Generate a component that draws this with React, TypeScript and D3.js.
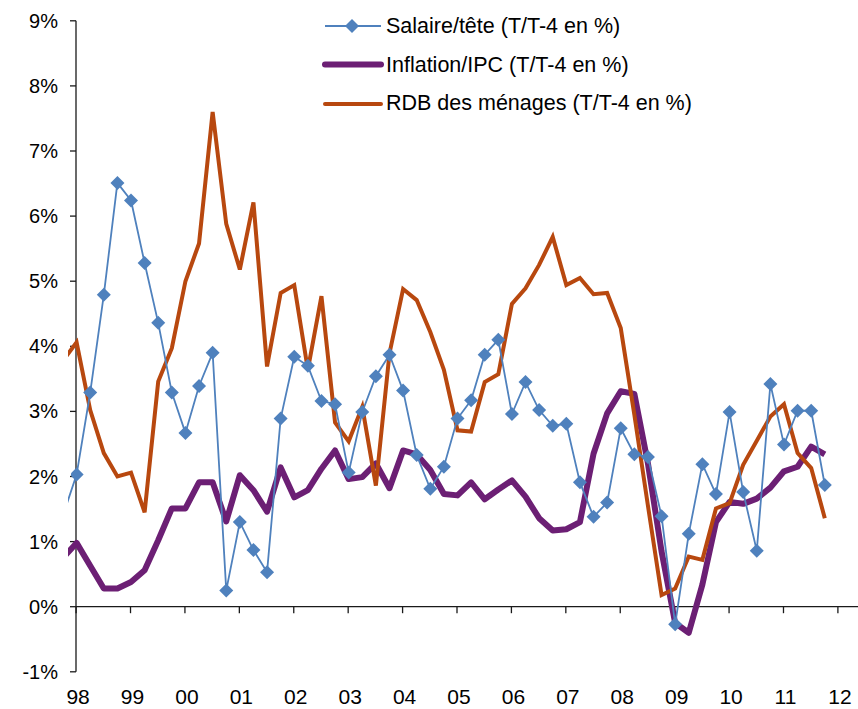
import React from 'react';
import * as d3 from 'd3';

// quarter index: 0 = tick "98" (first quarter of 1998); -1 = previous quarter (clipped)
const quarters = d3.range(-1, 56);

const salaire = [
  1.40, 2.03, 3.29, 4.79, 6.51, 6.24, 5.28, 4.36, 3.29, 2.67, 3.39, 3.90,
  0.25, 1.30, 0.87, 0.53, 2.89, 3.84, 3.70, 3.16, 3.11, 2.06, 2.99, 3.54,
  3.87, 3.32, 2.33, 1.81, 2.15, 2.89, 3.17, 3.87, 4.10, 2.96, 3.45, 3.02,
  2.78, 2.81, 1.91, 1.38, 1.60, 2.74, 2.34, 2.30, 1.39, -0.27, 1.12, 2.19,
  1.73, 2.99, 1.76, 0.86, 3.42, 2.49, 3.01, 3.01, 1.87,
];

const inflation = [
  0.75, 0.98, 0.63, 0.28, 0.28, 0.38, 0.56, 1.02, 1.51, 1.51, 1.91, 1.91,
  1.31, 2.02, 1.79, 1.46, 2.14, 1.68, 1.79, 2.12, 2.40, 1.96, 1.99, 2.20,
  1.82, 2.40, 2.34, 2.10, 1.73, 1.71, 1.91, 1.65, 1.80, 1.94, 1.69, 1.36,
  1.17, 1.19, 1.30, 2.35, 2.97, 3.31, 3.27, 2.20, 0.85, -0.25, -0.40, 0.34,
  1.30, 1.61, 1.58, 1.66, 1.83, 2.08, 2.15, 2.46, 2.34,
];

const rdb = [
  3.78, 4.06, 3.02, 2.36, 2.00, 2.06, 1.45, 3.46, 3.97, 5.00, 5.58, 7.60,
  5.88, 5.18, 6.21, 3.69, 4.82, 4.94, 3.64, 4.77, 2.83, 2.54, 3.07, 1.86,
  3.89, 4.88, 4.71, 4.22, 3.64, 2.71, 2.69, 3.45, 3.57, 4.65, 4.89, 5.25,
  5.68, 4.94, 5.05, 4.80, 4.82, 4.28, 2.95, 1.55, 0.18, 0.28, 0.77, 0.72,
  1.51, 1.59, 2.18, 2.55, 2.92, 3.11, 2.36, 2.13, 1.36,
];

const yearLabels = ['98', '99', '00', '01', '02', '03', '04', '05', '06', '07', '08', '09', '10', '11', '12'];
const yTicks = [-1, 0, 1, 2, 3, 4, 5, 6, 7, 8, 9];

const seriesNames = [
  'Salaire/tête (T/T-4 en %)',
  'Inflation/IPC (T/T-4 en %)',
  'RDB des ménages (T/T-4 en %)',
];

const BLUE = '#4F81BD';
const PURPLE = '#6C1F74';
const ORANGE = '#B8480F';
const AXIS = '#1a1a1a';
const FONT = 'Liberation Sans, Arial, sans-serif';

export default function App() {
  const W = 858;
  const H = 709;
  const x = d3.scaleLinear().domain([0, 56]).range([76.6, 838.4]);
  const y = d3.scaleLinear().domain([-1, 9]).range([671.8, 20.8]);
  const axisX = 76;

  const line = d3
    .line<number>()
    .x((_, i) => x(quarters[i]))
    .y((d) => y(d));

  const diamond = (cx: number, cy: number, r: number) =>
    `M${cx},${cy - r}L${cx + r},${cy}L${cx},${cy + r}L${cx - r},${cy}Z`;

  const legendY = [26, 64.5, 104];
  const legendBase = [32.5, 71.5, 110];

  return (
    <svg
      width={W}
      height={H}
      style={{ position: 'absolute', left: 0, top: 0, background: '#fff' }}
      fontFamily={FONT}
    >
      <defs>
        <clipPath id="plotClip">
          <rect x={68} y={0} width={W - 68} height={H} />
        </clipPath>
        <clipPath id="markClip">
          <rect x={71} y={0} width={W - 71} height={H} />
        </clipPath>
      </defs>

      {/* Y axis */}
      <line x1={axisX} x2={axisX} y1={y(9)} y2={y(-1)} stroke={AXIS} strokeWidth={1.3} />
      {yTicks.map((t) => (
        <g key={t}>
          <line x1={axisX - 6} x2={axisX} y1={y(t)} y2={y(t)} stroke={AXIS} strokeWidth={1.3} />
          <text x={58} y={y(t)} dy="0.35em" textAnchor="end" fontSize={20} fill="#000">
            {`${t}%`}
          </text>
        </g>
      ))}

      {/* X axis at 0% */}
      <line x1={axisX} x2={W} y1={y(0)} y2={y(0)} stroke={AXIS} strokeWidth={1.3} />
      {yearLabels.map((lab, k) => (
        <g key={lab}>
          <line x1={x(k * 4) - 0.5} x2={x(k * 4) - 0.5} y1={y(0)} y2={y(0) + 6.5} stroke={AXIS} strokeWidth={1.3} />
          <text x={x(k * 4) + 1.5} y={704} textAnchor="middle" fontSize={21} fill="#000">
            {lab}
          </text>
        </g>
      ))}

      {/* Series */}
      <g clipPath="url(#plotClip)">
        <path d={line(inflation) || ''} fill="none" stroke={PURPLE} strokeWidth={6} strokeLinejoin="round" />
        <path d={line(rdb) || ''} fill="none" stroke={ORANGE} strokeWidth={4} strokeLinejoin="miter" />
        <path d={line(salaire) || ''} fill="none" stroke={BLUE} strokeWidth={1.8} />
      </g>
      <g clipPath="url(#markClip)">
        {salaire.map((v, i) => (
          <path key={i} d={diamond(x(quarters[i]), y(v), 7)} fill={BLUE} />
        ))}
      </g>

      {/* Legend */}
      <g>
        <line x1={325} x2={381} y1={legendY[0]} y2={legendY[0]} stroke={BLUE} strokeWidth={1.8} />
        <path d={diamond(352, legendY[0], 7)} fill={BLUE} />
        <text x={386} y={legendBase[0]} fontSize={21.5} fill="#000">{seriesNames[0]}</text>

        <line x1={325} x2={381} y1={legendY[1]} y2={legendY[1]} stroke={PURPLE} strokeWidth={6} strokeLinecap="round" />
        <text x={386} y={legendBase[1]} fontSize={21.5} fill="#000">{seriesNames[1]}</text>

        <line x1={325} x2={381} y1={legendY[2]} y2={legendY[2]} stroke={ORANGE} strokeWidth={4} strokeLinecap="round" />
        <text x={386} y={legendBase[2]} fontSize={21.5} fill="#000">{seriesNames[2]}</text>
      </g>
    </svg>
  );
}
